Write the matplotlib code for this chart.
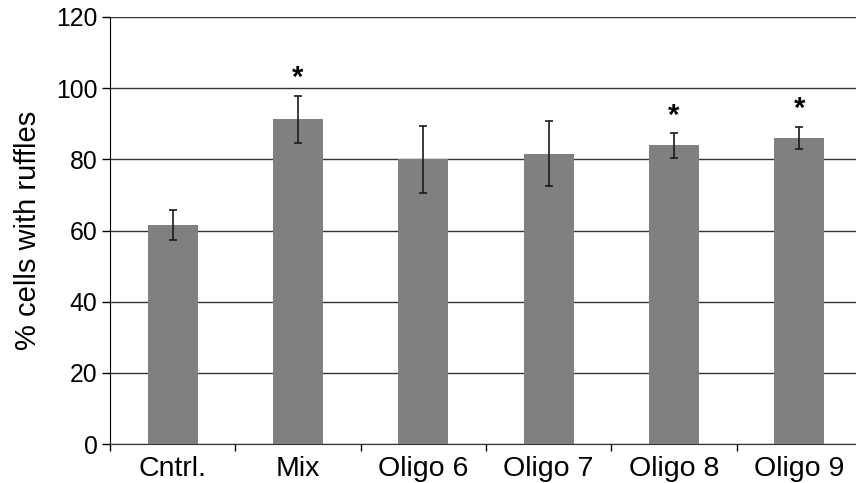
import matplotlib.pyplot as plt
import numpy as np

plt.rcParams['font.family'] = ['Liberation Sans', 'DejaVu Sans']

# Ruffle counts per treatment (mean and error)
groups = ['Cntrl.', 'Mix', 'Oligo 6', 'Oligo 7', 'Oligo 8', 'Oligo 9']
means = [61.5, 91.2, 80.0, 81.6, 83.9, 86.0]
errors = [4.3, 6.6, 9.4, 9.2, 3.5, 3.2]
significant = [False, True, False, False, True, True]

fig = plt.figure(figsize=(8.56, 4.83), dpi=100)
ax = fig.add_axes([110 / 856, 39 / 483, 752 / 856, 427 / 483])

x = np.arange(len(groups))
ax.bar(x, means, width=0.4, color='#808080', zorder=2)
ax.errorbar(x, means, yerr=errors, fmt='none', ecolor='#1a1a1a',
            elinewidth=1.2, capsize=3, capthick=1.2, zorder=3)

for xi, m, e, s in zip(x, means, errors, significant):
    if s:
        ax.text(xi, m + e + 1.0, '*', ha='center', va='bottom',
                fontsize=21, fontweight='bold')

ax.set_xlim(-0.5, len(groups) - 0.5)
ax.set_ylim(0, 120)
ax.set_yticks(range(0, 121, 20))
ax.yaxis.grid(True, color='#333333', linewidth=1.0, zorder=0)
ax.set_axisbelow(True)

ax.set_xticks(x)
ax.set_xticklabels(groups, fontsize=20.5)
ax.set_xticks(np.arange(-0.5, len(groups) - 0.5), minor=True)
ax.tick_params(axis='x', which='major', length=0, pad=9)
ax.tick_params(axis='x', which='minor', length=5, width=1, direction='out')
ax.tick_params(axis='y', labelsize=17.8, length=6, width=1, pad=3)

for side in ['top', 'right']:
    ax.spines[side].set_visible(False)
ax.spines['left'].set_color('black')
ax.spines['bottom'].set_color('#333333')

ax.set_ylabel('% cells with ruffles', fontsize=21, labelpad=10)

fig.savefig('out.png', dpi=100)
